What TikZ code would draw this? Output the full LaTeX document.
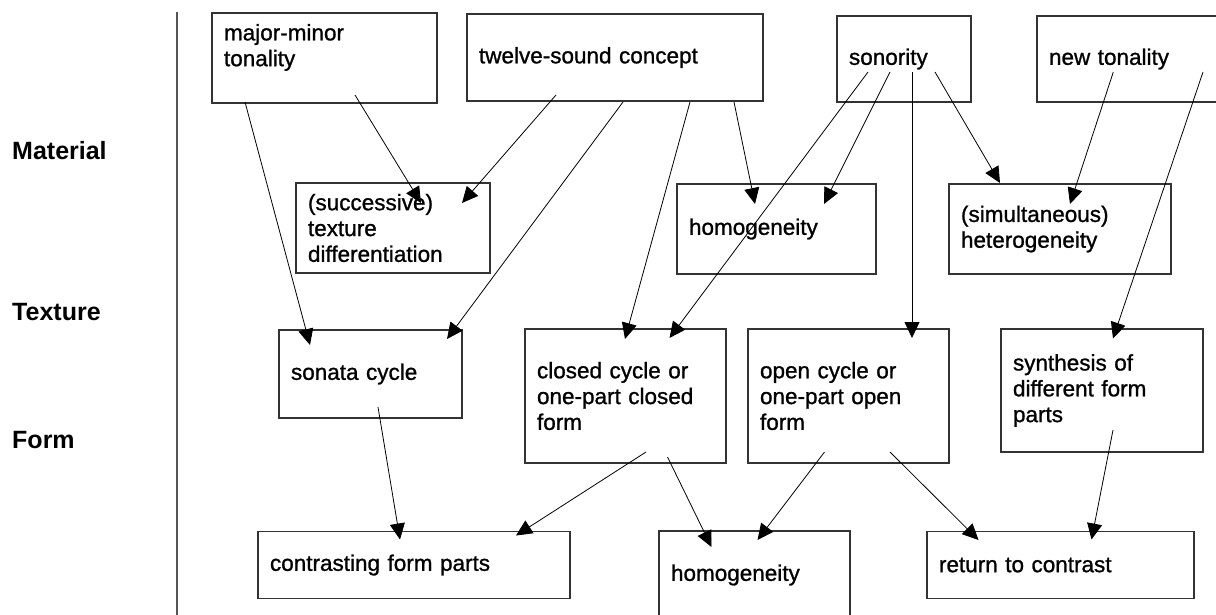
\documentclass[tikz,border=0pt]{standalone}
\usepackage{fontspec}
\setmainfont{Liberation Sans}
\newfontfamily\mfboxfont[FakeBold=1]{Liberation Sans}
\usepackage{xcolor}
\definecolor{mfline}{HTML}{333333}
\definecolor{mfrule}{HTML}{555555}
\usetikzlibrary{arrows.meta,calc}
\tikzset{
  mfbox/.style={draw=mfline,line width=1.3pt,fill=white,rectangle,align=left,inner xsep=12pt,inner ysep=0pt,font=\mfboxfont\fontsize{22.5}{25.8}\selectfont},
  mfsize/.style n args={2}{minimum width=#1,minimum height=#2,text width=#1-24pt},
  mfflow/.style={-{Triangle[length=16pt,width=15pt]},line width=0.8pt},
  mflabel/.style={anchor=west,inner sep=0pt,font=\fontsize{25}{30}\selectfont\bfseries},
}

\begin{document}
\begin{tikzpicture}[x=1pt,y=-1pt]
\clip (0,0) rectangle (1216,614);
\draw[mfrule,line width=1.5pt] (177,12) -- (177,620);
\node[mflabel] (lmat) at (12,151) {Material};
\node[mflabel] (ltex) at (12,312) {Texture};
\node[mflabel] (lform) at (12,440.5) {Form};

\node[mfbox,mfsize={225pt}{90pt}] (mm) at (324.5,58) {major-minor\\tonality\\\mbox{}};
\node[mfbox,mfsize={296pt}{87pt}] (tw) at (615,57.5) {twelve-sound concept};
\node[mfbox,mfsize={134pt}{86pt}] (so) at (904,59) {sonority};
\node[mfbox,mfsize={200pt}{86pt}] (nt) at (1137,59) {new tonality};

\node[mfbox,mfsize={194pt}{90pt}] (su) at (393,228) {(successive)\\texture\\differentiation};
\node[mfbox,mfsize={199pt}{90pt}] (ho) at (776.5,229) {homogeneity};
\node[mfbox,mfsize={222pt}{90pt}] (si) at (1060,229) {(simultaneous)\\heterogeneity};

\node[mfbox,mfsize={183pt}{88pt}] (sc) at (370.5,374) {sonata cycle};
\node[mfbox,mfsize={201pt}{134pt}] (cc) at (625.5,396) {closed cycle or\\one-part closed\\form};
\node[mfbox,mfsize={201pt}{134pt}] (oc) at (848.5,396) {open cycle or\\one-part open\\form};
\node[mfbox,mfsize={202pt}{123pt}] (sy) at (1102,390.5) {synthesis of\\different form\\parts};

\node[mfbox,mfsize={312pt}{67pt}] (cf) at (414,565) {contrasting form parts};
\node[mfbox,mfsize={191pt}{88pt}] (hb) at (754.5,575) {homogeneity};
\node[mfbox,mfsize={267pt}{67pt}] (rc) at (1060.5,565) {return to contrast};

\draw[mfflow] ($(mm)+(30.5,37)$) -- ($(su)+(28,-25)$);
\draw[mfflow] ($(mm)+(-79.5,44)$) -- ($(sc)+(-60.5,-29)$);
\draw[mfflow] ($(tw)+(-59,37.5)$) -- ($(su)+(69,-25)$);
\draw[mfflow] ($(tw)+(8,44.5)$) -- ($(sc)+(76.5,-35)$);
\draw[mfflow] ($(tw)+(75,44.5)$) -- ($(cc)+(-0.5,-57)$);
\draw[mfflow] ($(tw)+(119,44.5)$) -- ($(ho)+(-21.5,-25)$);
\draw[mfflow] ($(so)+(-36,13)$) -- ($(cc)+(44,-58)$);
\draw[mfflow] ($(so)+(-14,13)$) -- ($(ho)+(47.5,-25)$);
\draw[mfflow] ($(so)+(8,13)$) -- ($(oc)+(63.5,-58)$);
\draw[mfflow] ($(so)+(31,13)$) -- ($(si)+(-60,-46)$);
\draw[mfflow] ($(nt)+(-23.7,13)$) -- ($(si)+(10,-25)$);
\draw[mfflow] ($(nt)+(66,13)$) -- ($(sy)+(11,-52)$);
\draw[mfflow] ($(sc)+(7.5,33)$) -- ($(cf)+(-14,-25.5)$);
\draw[mfflow] ($(cc)+(20.5,56)$) -- ($(cf)+(102,-29.5)$);
\draw[mfflow] ($(cc)+(42,61)$) -- ($(hb)+(-43,-28)$);
\draw[mfflow] ($(oc)+(-24,56)$) -- ($(hb)+(3,-35)$);
\draw[mfflow] ($(oc)+(41.5,56)$) -- ($(rc)+(-82,-25)$);
\draw[mfflow] ($(sy)+(11,39.5)$) -- ($(rc)+(31,-25.5)$);
\end{tikzpicture}
\end{document}
